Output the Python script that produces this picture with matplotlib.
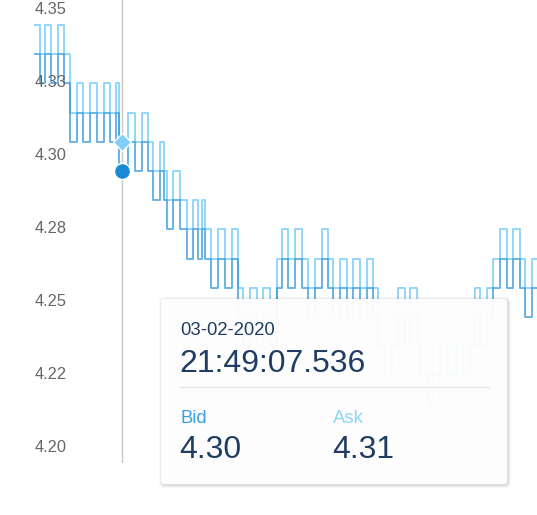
import matplotlib
matplotlib.use("Agg")
import matplotlib.pyplot as plt
from matplotlib.patches import FancyBboxPatch
from matplotlib.transforms import offset_copy

plt.rcParams["font.family"] = ["Liberation Sans", "DejaVu Sans"]

# tick data: seconds after 21:48:00 (03-02-2020), bid / ask quotes
times = [58.8, 59.3, 59.8, 60.4, 61.1, 61.7, 62.3, 63.0, 63.6, 64.3,
         65.0, 65.7, 66.3, 66.9, 67.2, 68.1, 68.8, 69.5, 70.1, 70.6,
         71.3, 71.7, 72.0, 72.6, 73.3, 74.0, 74.6, 75.1, 75.5, 75.8,
         76.4, 77.1, 77.8, 78.5, 79.1, 79.6, 80.3, 81.0, 81.6, 82.3,
         83.0, 83.5, 84.1, 84.8, 85.5, 86.1, 86.8, 87.5, 88.1, 88.6,
         89.3, 90.0, 90.6, 91.3, 92.0, 92.6, 93.1, 93.8, 94.5, 95.1,
         95.8, 96.3, 97.0, 97.3, 98.1, 98.5, 99.3, 100.1, 101.0, 101.6,
         102.3, 102.8, 103.3, 104.0, 104.6, 105.3, 106.0, 106.6, 107.3, 107.8,
         108.5, 109.8]
bid = [4.34, 4.33, 4.34, 4.33, 4.34, 4.33, 4.31, 4.32, 4.31, 4.32,
       4.31, 4.32, 4.31, 4.32, 4.30, 4.31, 4.30, 4.31, 4.30, 4.29,
       4.30, 4.29, 4.28, 4.29, 4.28, 4.27, 4.28, 4.27, 4.28, 4.27,
       4.26, 4.27, 4.26, 4.27, 4.25, 4.24, 4.25, 4.24, 4.25, 4.24,
       4.26, 4.27, 4.26, 4.27, 4.26, 4.25, 4.26, 4.27, 4.26, 4.25,
       4.26, 4.25, 4.26, 4.25, 4.26, 4.25, 4.24, 4.23, 4.24, 4.25,
       4.24, 4.25, 4.24, 4.23, 4.22, 4.23, 4.24, 4.23, 4.24, 4.23,
       4.24, 4.25, 4.24, 4.25, 4.26, 4.27, 4.26, 4.27, 4.26, 4.25,
       4.26, 4.26]
ask = [4.35, 4.34, 4.35, 4.34, 4.35, 4.34, 4.32, 4.33, 4.32, 4.33,
       4.32, 4.33, 4.32, 4.33, 4.31, 4.32, 4.31, 4.32, 4.31, 4.30,
       4.31, 4.30, 4.29, 4.30, 4.29, 4.28, 4.29, 4.28, 4.29, 4.28,
       4.27, 4.28, 4.27, 4.28, 4.26, 4.25, 4.26, 4.25, 4.26, 4.25,
       4.27, 4.28, 4.27, 4.28, 4.27, 4.26, 4.27, 4.28, 4.27, 4.26,
       4.27, 4.26, 4.27, 4.26, 4.27, 4.26, 4.25, 4.24, 4.25, 4.26,
       4.25, 4.26, 4.25, 4.24, 4.23, 4.24, 4.25, 4.24, 4.25, 4.24,
       4.25, 4.26, 4.25, 4.26, 4.27, 4.28, 4.27, 4.28, 4.27, 4.26,
       4.27, 4.27]

hover_time = 67.536
hover_date = "03-02-2020"
hover_clock = "21:49:07.536"
hover_bid = 4.30
hover_ask = 4.31

tick_values = [4.35, 4.325, 4.30, 4.275, 4.25, 4.225, 4.20]
tick_labels = ["4.35", "4.33", "4.30", "4.28", "4.25", "4.22", "4.20"]

BID_COLOR = "#2a93da"
ASK_COLOR = "#7fcff8"
NAVY = "#1f3d64"

W, H = 537, 515
fig = plt.figure(figsize=(W / 100, H / 100), dpi=100)
ax = fig.add_axes([0, 52 / H, 1, 463 / H])
ax.set_xlim(55.3, 109.0)
ax.set_ylim(4.20, 4.20 + 463 / 2920)
ax.axis("off")

ax.step(times, ask, where="post", color=ASK_COLOR, lw=1.4, alpha=0.85)
ax.step(times, bid, where="post", color=BID_COLOR, lw=1.4, alpha=0.7)

# crosshair and hover markers
ax.axvline(hover_time, color="#c8c8c8", lw=1.0, zorder=3)
ax.plot([hover_time], [hover_ask], marker="D", ms=9, color=ASK_COLOR,
        mec="white", mew=1, zorder=5)
ax.plot([hover_time], [hover_bid], marker="o", ms=11.5, color="#1a8ad4",
        mec="white", mew=1, zorder=5)

# y labels sit above their grid value
lab_trans = offset_copy(ax.get_yaxis_transform(), fig=fig, x=0, y=11.5, units="dots")
for v, s in zip(tick_values, tick_labels):
    ax.text(35 / W, v, s, transform=lab_trans, ha="left", va="baseline",
            fontsize=11.8, color="#666666", zorder=6)

# tooltip overlay in pixel coordinates
ov = fig.add_axes([0, 0, 1, 1])
ov.set_xlim(0, W)
ov.set_ylim(H, 0)
ov.axis("off")

bx, by, bw, bh = 161, 299, 346, 185
for i, a in enumerate([0.03, 0.045, 0.06]):
    g = 3 - i
    ov.add_patch(FancyBboxPatch((bx + 1 - g, by + 1 - g), bw + 2 * g, bh + 2 * g,
                                boxstyle="round,pad=0,rounding_size=5",
                                fc="black", ec="none", alpha=a))
ov.add_patch(FancyBboxPatch((bx, by), bw, bh, boxstyle="round,pad=0,rounding_size=3",
                            fc="white", ec="none", alpha=0.965))
ov.plot([180, 489], [387, 387], color="#e4e8ec", lw=1)

ov.text(180, 335, hover_date, fontsize=13.3, color=NAVY, va="baseline")
ov.text(179, 372, hover_clock, fontsize=23, color=NAVY, va="baseline")
ov.text(180, 423, "Bid", fontsize=13.3, color="#3a9fe2", va="baseline")
ov.text(333, 423, "Ask", fontsize=13.3, color="#8ed5fb", va="baseline")
ov.text(179, 458, f"{hover_bid:.2f}", fontsize=23, color=NAVY, va="baseline")
ov.text(332, 458, f"{hover_ask:.2f}", fontsize=23, color=NAVY, va="baseline")

fig.savefig("out.png", dpi=100)
